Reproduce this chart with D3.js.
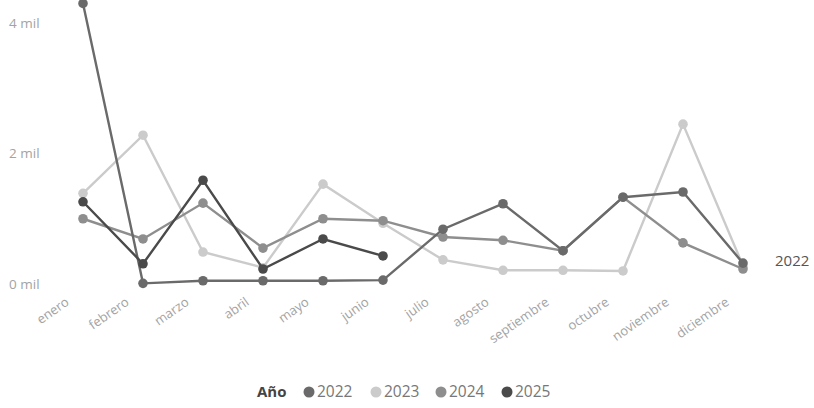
<!DOCTYPE html>
<html><head><meta charset="utf-8">
<script src="https://cdn.jsdelivr.net/npm/d3@7"></script>
<style>
body{margin:0;background:#fff;}
svg text{font-family:"Open Sans","Segoe UI","Noto Sans",sans-serif;}
</style></head>
<body><svg id="c" width="814" height="408"></svg>
<script>
const months = ["enero","febrero","marzo","abril","mayo","junio","julio","agosto","septiembre","octubre","noviembre","diciembre"];
const years = ["2022","2023","2024","2025"];
const v2022 = [4300, 10, 50, 50, 50, 60, 840, 1230, 510, 1330, 1410, 320];
const v2023 = [1390, 2280, 490, 250, 1530, 930, 370, 210, 210, 200, 2450, 280];
const v2024 = [1000, 690, 1240, 550, 1000, 970, 720, 670, 510, 1330, 630, 230];
const v2025 = [1260, 310, 1590, 230, 690, 430];
const yTicks = [0, 2000, 4000];
const colors = ["#6a6a6a", "#cbcbcb", "#8e8e8e", "#4a4a4a"];
const seriesVals = [v2022, v2023, v2024, v2025];

const svg = d3.select("#c");
const x = d3.scalePoint().domain(months).range([83, 743]);
const y = d3.scaleLinear().domain([0, 4000]).range([284, 23]);

// y axis labels
svg.append("g").selectAll("text").data(yTicks).join("text")
  .attr("x", 9).attr("y", d => y(d)).attr("dy", "0.35em")
  .attr("fill", "#a3a3a3").attr("font-size", 13.5)
  .text(d => (d/1000) + " mil");

// x axis labels
svg.append("g").selectAll("text").data(months).join("text")
  .attr("transform", d => `translate(${x(d)-13},${304}) rotate(-35)`)
  .attr("text-anchor", "end")
  .attr("fill", "#a3a3a3").attr("font-size", 13)
  .text(d => d);

const line = d3.line().x((d,i) => x(months[i])).y(d => y(d));
const order = [1, 2, 0, 3];
order.forEach(si => {
  const vals = seriesVals[si];
  const g = svg.append("g");
  g.append("path").datum(vals).attr("d", line)
    .attr("fill", "none").attr("stroke", colors[si]).attr("stroke-width", 2.4);
  g.selectAll("circle").data(vals).join("circle")
    .attr("cx", (d,i) => x(months[i])).attr("cy", d => y(d)).attr("r", 4.8)
    .attr("fill", colors[si]);
});

// end label
svg.append("text").attr("x", 775).attr("y", 261).attr("dy", "0.35em")
  .attr("fill", "#555").attr("font-size", 15).text(years[0]);

// legend
const lg = svg.append("g").attr("transform", "translate(0,392)");
lg.append("text").attr("x", 257).attr("dy", "0.35em").attr("font-size", 15)
  .attr("font-weight", "bold").attr("fill", "#444").text("Año");
const lx = [309, 376, 441, 507];
years.forEach((yr, i) => {
  lg.append("circle").attr("cx", lx[i]).attr("cy", 0).attr("r", 5.5).attr("fill", colors[i]);
  lg.append("text").attr("x", lx[i] + 8).attr("dy", "0.35em").attr("font-size", 15.5)
    .attr("fill", "#777").text(yr);
});
</script></body></html>
